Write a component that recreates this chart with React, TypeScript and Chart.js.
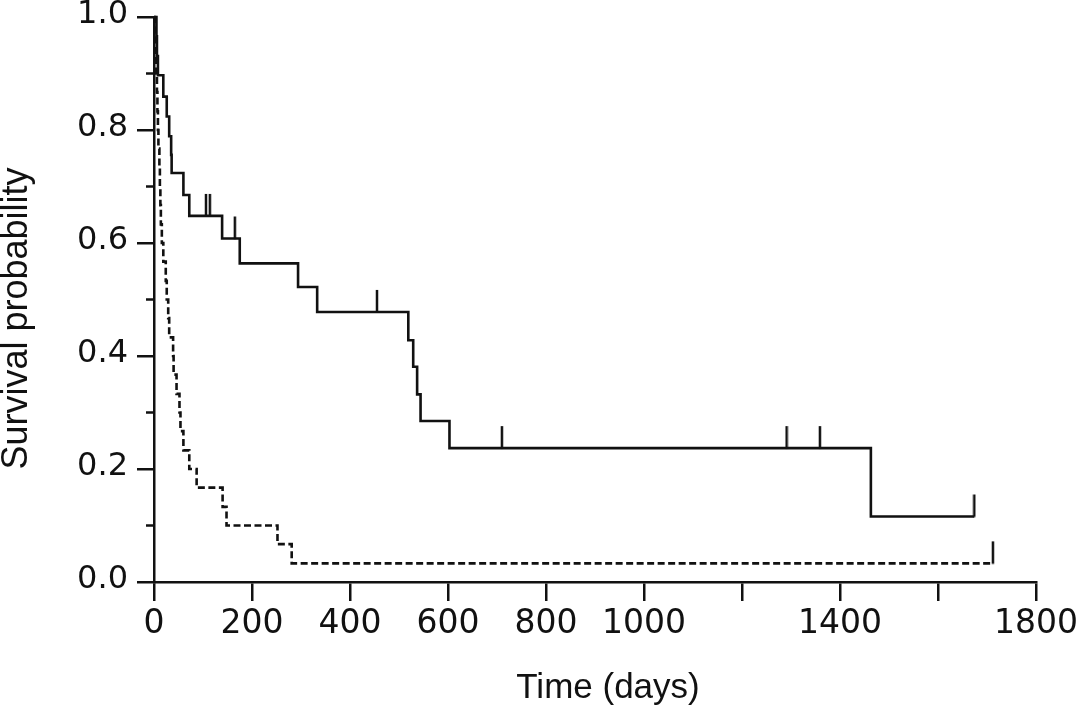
import React, { useEffect, useRef } from 'react';
import { Chart, registerables } from 'chart.js';

Chart.register(...registerables);

// ---------- data ----------
// Group 1 (solid line): event times (days) and survival after each step
const solidTimes = [0, 5, 6, 8, 19, 26, 31, 35, 36, 60, 72, 139, 175, 294, 333, 519, 529, 537, 544, 603, 1463, 1674];
const solidSurv = [1.0, 0.966, 0.931, 0.897, 0.859, 0.824, 0.789, 0.756, 0.724, 0.685, 0.648, 0.608, 0.564, 0.522, 0.478, 0.428, 0.381, 0.332, 0.285, 0.237, 0.116, 0.116];
const solidCensor = [106, 114, 165, 455, 710, 1291, 1359, 1674];

// Group 2 (dashed line)
const dashTimes = [0, 2, 3, 4, 6, 7, 8, 9, 11, 12, 13, 14, 16, 19, 24, 26, 29, 31, 39, 40, 46, 52, 54, 60, 72, 87, 140, 148, 252, 281, 1712];
const dashSurv = [1.0, 0.967, 0.933, 0.9, 0.867, 0.833, 0.8, 0.767, 0.733, 0.7, 0.667, 0.633, 0.6, 0.567, 0.533, 0.5, 0.467, 0.433, 0.4, 0.367, 0.333, 0.3, 0.267, 0.233, 0.2, 0.167, 0.133, 0.1, 0.067, 0.033, 0.033];
const dashCensor = [1712];

// Axes
const xMin = 0;
const xMax = 1800;
const xStep = 200;
const xTickLabels = ['0', '200', '400', '600', '800', '1000', '', '1400', '', '1800'];
const yMin = 0;
const yMax = 1;
const yStep = 0.2;
const yMinorTicks = [0.1, 0.3, 0.5, 0.7, 0.9];
const xTitle = 'Time (days)';
const yTitle = 'Survival probability';

const INK = '#111111';

function survAt(times: number[], surv: number[], t: number): number {
  let s = surv[0];
  for (let i = 0; i < times.length; i++) {
    if (times[i] <= t) s = surv[i];
  }
  return s;
}

const decorPlugin = {
  id: 'decor',
  afterDraw(chart: any) {
    const { ctx, chartArea, scales } = chart;
    const y = scales.y;
    ctx.save();
    ctx.strokeStyle = INK;
    ctx.lineWidth = 2.5;
    for (const v of yMinorTicks) {
      const py = y.getPixelForValue(v);
      ctx.beginPath();
      ctx.moveTo(chartArea.left - 8, py);
      ctx.lineTo(chartArea.left, py);
      ctx.stroke();
    }
    ctx.fillStyle = INK;
    ctx.textAlign = 'center';
    ctx.textBaseline = 'middle';
    ctx.font = '35px "Liberation Sans", Arial, sans-serif';
    ctx.fillText(xTitle, (chartArea.left + chartArea.right) / 2 + 13, 688);
    ctx.font = '36px "Liberation Sans", Arial, sans-serif';
    ctx.translate(17, (chartArea.top + chartArea.bottom) / 2 + 19);
    ctx.rotate(-Math.PI / 2);
    ctx.fillText(yTitle, 0, 0);
    ctx.restore();
  },
};

export default function App() {
  const ref = useRef<HTMLCanvasElement>(null);

  useEffect(() => {
    document.body.style.margin = '0';
    const canvas = ref.current;
    if (!canvas) return;

    const tick = document.createElement('canvas');
    tick.width = 4;
    tick.height = 46;
    const tc = tick.getContext('2d')!;
    tc.fillStyle = INK;
    tc.fillRect(0.75, 1, 2.5, 22.5);

    const chart = new Chart(canvas, {
      type: 'line',
      data: {
        datasets: [
          {
            label: 'Group 1',
            data: solidTimes.map((t, i) => ({ x: t, y: solidSurv[i] })),
            stepped: 'before',
            borderColor: INK,
            borderWidth: 2.6,
            pointRadius: 0,
            fill: false,
            clip: false,
          } as any,
          {
            label: 'Group 2',
            data: dashTimes.map((t, i) => ({ x: t, y: dashSurv[i] })),
            stepped: 'before',
            borderColor: INK,
            borderWidth: 2.6,
            borderDash: [7, 3.5],
            pointRadius: 0,
            fill: false,
            clip: false,
          } as any,
          {
            type: 'scatter',
            label: 'Censored 1',
            data: solidCensor.map((t) => ({ x: t, y: survAt(solidTimes, solidSurv, t) })),
            pointStyle: tick,
            pointRadius: 12,
            showLine: false,
            clip: false,
          } as any,
          {
            type: 'scatter',
            label: 'Censored 2',
            data: dashCensor.map((t) => ({ x: t, y: survAt(dashTimes, dashSurv, t) })),
            pointStyle: tick,
            pointRadius: 12,
            showLine: false,
            clip: false,
          } as any,
        ],
      },
      options: {
        responsive: false,
        animation: false,
        layout: { padding: { left: 0, right: 44, top: 17, bottom: 0 } },
        plugins: {
          legend: { display: false },
          tooltip: { enabled: false },
        },
        scales: {
          x: {
            type: 'linear',
            min: xMin,
            max: xMax,
            afterFit: (s: any) => {
              s.height = 136;
              s.paddingLeft = 0;
              s.paddingRight = 0;
            },
            ticks: {
              stepSize: xStep,
              autoSkip: false,
              maxRotation: 0,
              padding: 4,
              color: INK,
              font: { family: '"DejaVu Sans", Verdana, sans-serif', size: 33 },
              callback: (v: any) => {
                const idx = Math.round((Number(v) - xMin) / xStep);
                return xTickLabels[idx] ?? '';
              },
            },
            grid: {
              display: true,
              drawOnChartArea: false,
              drawTicks: true,
              tickLength: 19,
              color: INK,
              lineWidth: 2.5,
            },
            border: { display: true, color: INK, width: 2.5 },
          },
          y: {
            type: 'linear',
            min: yMin,
            max: yMax,
            afterFit: (s: any) => {
              s.width = 154;
              s.paddingTop = 0;
              s.paddingBottom = 0;
            },
            ticks: {
              stepSize: yStep,
              padding: 9,
              labelOffset: -2,
              color: INK,
              font: { family: '"DejaVu Sans", Verdana, sans-serif', size: 32 },
              callback: (v: any) => Number(v).toFixed(1),
            },
            grid: {
              display: true,
              drawOnChartArea: false,
              drawTicks: true,
              tickLength: 17,
              color: INK,
              lineWidth: 2.5,
            },
            border: { display: true, color: INK, width: 2.5 },
          },
        },
      } as any,
      plugins: [decorPlugin],
    });

    return () => chart.destroy();
  }, []);

  return (
    <div style={{ position: 'absolute', left: 0, top: 0, width: 1080, height: 718, background: '#fff' }}>
      <canvas ref={ref} width={1080} height={718} style={{ width: 1080, height: 718, display: 'block' }} />
    </div>
  );
}
